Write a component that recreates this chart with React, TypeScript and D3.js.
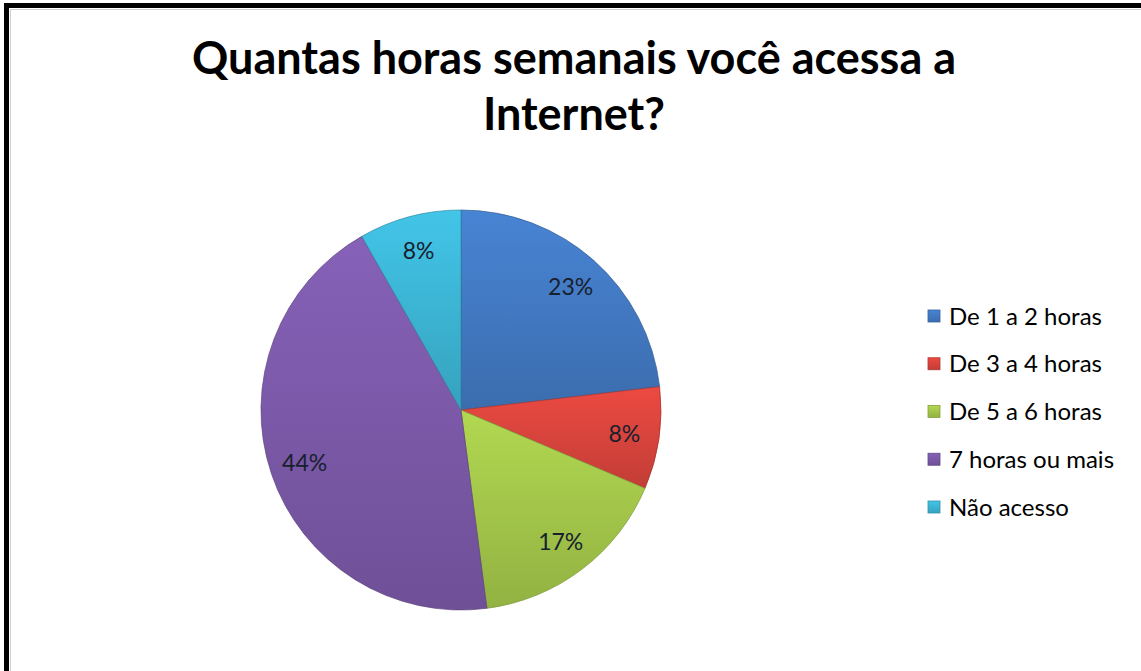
import React from "react";
import * as d3 from "d3";

const categories = ["De 1 a 2 horas", "De 3 a 4 horas", "De 5 a 6 horas", "7 horas ou mais", "Não acesso"];
const counts = [28, 10, 20, 53, 10];
const colors = ["#4279c2", "#d8443c", "#a3c64a", "#7b59a8", "#3cb4d4"];
const titleLines = ["Quantas horas semanais você acessa a", "Internet?"];

const W = 1141;
const H = 671;
const cx = 461;
const cy = 410;
const R = 200;

export default function App() {
  const pie = d3.pie<number>().sort(null).value((d) => d);
  const arcs = pie(counts);
  const arc = d3.arc<d3.PieArcDatum<number>>().innerRadius(0).outerRadius(R);
  const labelArc = d3.arc<d3.PieArcDatum<number>>().innerRadius(165).outerRadius(165);
  const total = d3.sum(counts);
  const fmt = (v: number) => `${Math.round((v / total) * 100)}%`;
  const legendY = d3.scalePoint<string>().domain(categories).range([316, 507]);

  return (
    <svg width={W} height={H} style={{ position: "absolute", left: 0, top: 0, background: "#fff" }}>
      <defs>
        {colors.map((c, i) => {
          const base = d3.color(c)!;
          return (
            <linearGradient key={i} id={`g${i}`} x1="0" y1="0" x2="0" y2="1">
              <stop offset="0" stopColor={base.brighter(0.25).formatHex()} />
              <stop offset="1" stopColor={base.darker(0.3).formatHex()} />
            </linearGradient>
          );
        })}
        {arcs.map((a, i) => (
          <clipPath key={i} id={`c${i}`}>
            <path d={arc(a)!} transform={`translate(${cx},${cy})`} />
          </clipPath>
        ))}
      </defs>
      <rect x={0} y={0} width={W} height={H} fill="#fff" />
      <line x1={10.5} y1={9} x2={10.5} y2={H} stroke="#d0d0d0" strokeWidth={1} />
      <line x1={10} y1={9.5} x2={W} y2={9.5} stroke="#d0d0d0" strokeWidth={1} />
      <rect x={6.5} y={5.5} width={W + 20} height={H + 20} fill="none" stroke="#000" strokeWidth={5} />

      {titleLines.map((t, i) => (
        <text
          key={i}
          x={574}
          y={74 + i * 56}
          textAnchor="middle"
          fontFamily="Lato, 'Open Sans', sans-serif"
          fontWeight={700}
          fontSize={45}
          fill="#000"
        >
          {t}
        </text>
      ))}

      <g>
        {arcs.map((a, i) => {
          const base = d3.color(colors[i])!;
          return (
            <g key={i}>
              <path d={arc(a)!} transform={`translate(${cx},${cy})`} fill={`url(#g${i})`} />
              <path
                d={arc(a)!}
                transform={`translate(${cx},${cy})`}
                fill="none"
                stroke={base.brighter(0.8).formatHex()}
                strokeOpacity={0.6}
                strokeWidth={8}
                clipPath={`url(#c${i})`}
              />
              <path
                d={arc(a)!}
                transform={`translate(${cx},${cy})`}
                fill="none"
                stroke={base.darker(0.8).formatHex()}
                strokeOpacity={0.7}
                strokeWidth={1}
              />
            </g>
          );
        })}
        {arcs.map((a, i) => {
          const [lx, ly] = labelArc.centroid(a);
          return (
            <text
              key={i}
              x={cx + lx}
              y={cy + ly}
              dy="0.36em"
              textAnchor="middle"
              fontFamily="Lato, 'Open Sans', sans-serif"
              fontSize={23}
              fill="#17212e"
            >
              {fmt(a.data)}
            </text>
          );
        })}
      </g>

      <g>
        {categories.map((c, i) => {
          const y = legendY(c)!;
          const base = d3.color(colors[i])!;
          return (
            <g key={c}>
              <rect x={928} y={y - 6} width={12} height={12} fill={`url(#g${i})`} stroke={base.darker(0.6).formatHex()} strokeWidth={0.8} />
              <text
                x={949}
                y={y}
                dy="0.36em"
                fontFamily="Lato, 'Open Sans', sans-serif"
                fontSize={24}
                fill="#000"
              >
                {c}
              </text>
            </g>
          );
        })}
      </g>
    </svg>
  );
}
